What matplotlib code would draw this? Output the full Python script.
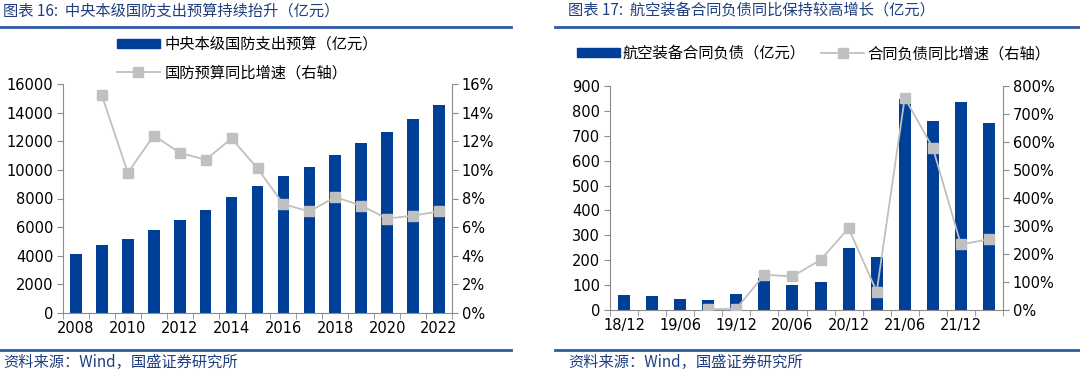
import numpy as np
import matplotlib.pyplot as plt
from matplotlib.patches import Patch
from matplotlib.lines import Line2D
from matplotlib.ticker import FuncFormatter

plt.rcParams['font.family'] = ['DejaVu Sans', 'Noto Sans CJK SC']

# left chart: defence budget
years = list(range(2008, 2023))
budget = [4100, 4730, 5190, 5830, 6500, 7200, 8080, 8870, 9550, 10230, 11070, 11900, 12680, 13550, 14500]
budget_yoy = [np.nan, 15.2, 9.8, 12.4, 11.2, 10.7, 12.2, 10.1, 7.6, 7.1, 8.1, 7.5, 6.6, 6.8, 7.1]

# right chart: contract liabilities
quarters = ['18/12', '19/03', '19/06', '19/09', '19/12', '20/03', '20/06', '20/09',
            '20/12', '21/03', '21/06', '21/09', '21/12', '22/03']
liab = [60, 56, 44, 40, 63, 127, 100, 113, 248, 212, 849, 759, 834, 751]
liab_yoy = [np.nan, np.nan, np.nan, 2, 5, 126, 120, 179, 292, 66, 758, 579, 234, 253]

BAR = '#003f98'
GREY = '#c0c0c0'
SPINE = '#8c8c8c'
HEAD = '#1f3f80'
CJK = ['Noto Sans CJK SC', 'DejaVu Sans']

fig = plt.figure(figsize=(10.8, 3.72), dpi=100)


def style_axes(ax, ax2):
    for a in (ax, ax2):
        for s in a.spines.values():
            s.set_visible(False)
    ax.spines['left'].set_visible(True)
    ax.spines['bottom'].set_visible(True)
    ax2.spines['right'].set_visible(True)
    for s in (ax.spines['left'], ax.spines['bottom'], ax2.spines['right']):
        s.set_color(SPINE)
    ax.tick_params(axis='y', length=4, color=SPINE, labelsize=10.5, pad=3)
    ax2.tick_params(axis='y', length=4, color=SPINE, labelsize=10.5, pad=3)
    ax.tick_params(axis='x', which='major', length=0, labelsize=10.5, pad=6)
    ax.tick_params(axis='x', which='minor', length=4, color=SPINE)


# ---- left chart ----
axL = fig.add_axes([63 / 1080, 59 / 372, 389 / 1080, 229 / 372])
axL2 = axL.twinx()
x = np.arange(len(years))
axL.bar(x, budget, width=0.45, color=BAR)
axL2.plot(x, budget_yoy, color=GREY, lw=1.3, marker='s', ms=7, mfc=GREY, mec=GREY)
axL.set_xlim(-0.5, len(years) - 0.5)
axL.set_ylim(0, 16000)
axL.set_yticks(np.arange(0, 16001, 2000))
axL2.set_ylim(0, 16)
axL2.set_yticks(np.arange(0, 17, 2))
axL2.yaxis.set_major_formatter(FuncFormatter(lambda v, p: f'{v:.0f}%'))
axL.set_xticks(x[::2])
axL.set_xticklabels([str(y) for y in years[::2]])
axL.set_xticks(np.arange(-0.5, len(years)), minor=True)
style_axes(axL, axL2)

# ---- right chart ----
axR = fig.add_axes([610 / 1080, 62 / 372, 393 / 1080, 224 / 372])
axR2 = axR.twinx()
xq = np.arange(len(quarters))
axR.bar(xq, liab, width=0.43, color=BAR)
axR2.plot(xq, liab_yoy, color=GREY, lw=1.3, marker='s', ms=7, mfc=GREY, mec=GREY)
axR.set_xlim(-0.5, len(quarters) - 0.5)
axR.set_ylim(0, 900)
axR.set_yticks(np.arange(0, 901, 100))
axR2.set_ylim(0, 800)
axR2.set_yticks(np.arange(0, 801, 100))
axR2.yaxis.set_major_formatter(FuncFormatter(lambda v, p: f'{v:.0f}%'))
axR.set_xticks(xq[::2])
axR.set_xticklabels(quarters[::2])
axR.set_xticks(np.arange(-0.5, len(quarters)), minor=True)
style_axes(axR, axR2)

# ---- legends ----
bar_h = Patch(facecolor=BAR, edgecolor=BAR)
line_h = Line2D([], [], color=GREY, lw=1.3, marker='s', ms=7, mfc=GREY, mec=GREY)
fig.legend([bar_h, line_h], ['中央本级国防支出预算（亿元）', '国防预算同比增速（右轴）'],
           loc='upper left', bbox_to_anchor=(117 / 1080, 1 - 36 / 372), frameon=False,
           prop={'family': CJK, 'size': 11}, handlelength=2.8, handleheight=0.6,
           handletextpad=0.3, labelspacing=0.75, borderaxespad=0, borderpad=0)
fig.legend([bar_h, line_h], ['航空装备合同负债（亿元）', '合同负债同比增速（右轴）'],
           loc='upper left', bbox_to_anchor=(577 / 1080, 1 - 45 / 372), frameon=False, ncol=2,
           prop={'family': CJK, 'size': 11}, handlelength=2.8, handleheight=0.6,
           handletextpad=0.2, columnspacing=1.0, borderaxespad=0, borderpad=0)

# ---- headers and footers ----
fig.text(3 / 1080, 1 - 11 / 372, '图表 16:  中央本级国防支出预算持续抬升（亿元）', color=HEAD,
         fontsize=11, style='italic', va='center', ha='left', family=CJK)
fig.text(568 / 1080, 1 - 11 / 372, '图表 17:  航空装备合同负债同比保持较高增长（亿元）', color=HEAD,
         fontsize=11, style='italic', va='center', ha='left', family=CJK)
fig.text(3 / 1080, 1 - 362 / 372, '资料来源：Wind，国盛证券研究所', color=HEAD,
         fontsize=11, style='italic', va='center', ha='left', family=CJK)
fig.text(568 / 1080, 1 - 362 / 372, '资料来源：Wind，国盛证券研究所', color=HEAD,
         fontsize=11, style='italic', va='center', ha='left', family=CJK)
for x0, x1 in ((0, 511), (555, 1080)):
    for yy in (27, 350):
        fig.add_artist(Line2D([x0 / 1080, x1 / 1080], [1 - yy / 372, 1 - yy / 372],
                              color='#2e5aa6', lw=2))

fig.savefig('out.png', dpi=100)
